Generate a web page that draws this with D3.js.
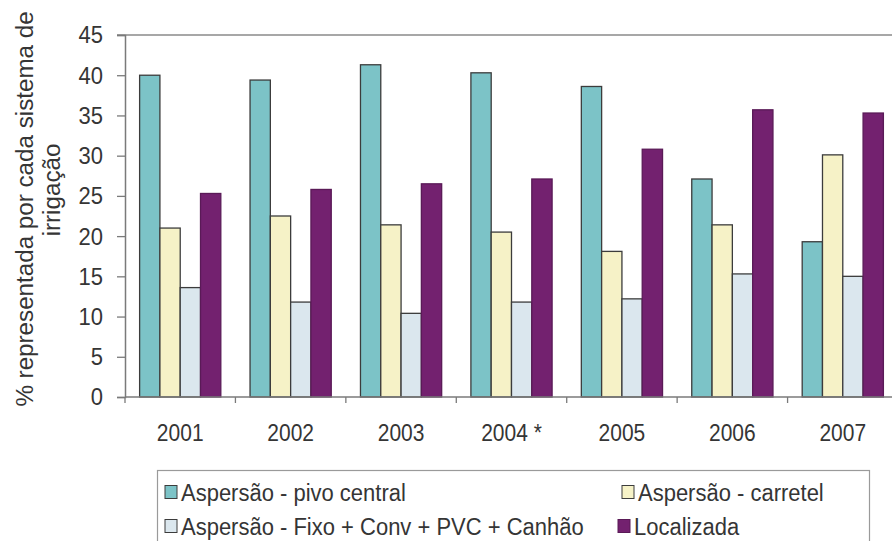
<!DOCTYPE html>
<html>
<head>
<meta charset="utf-8">
<script src="https://cdn.jsdelivr.net/npm/d3@7"></script>
<style>
  html, body { margin: 0; padding: 0; background: #fff; }
  svg { display: block; font-family: "Liberation Sans", Arial, sans-serif; }
</style>
</head>
<body>
<svg id="chart" width="892" height="541"></svg>
<script>
// Irrigation systems share per year (%)
const years = ["2001", "2002", "2003", "2004 *", "2005", "2006", "2007"];
const seriesNames = [
  "Aspersão - pivo central",
  "Aspersão - carretel",
  "Aspersão - Fixo + Conv + PVC + Canhão",
  "Localizada"
];
const pivoCentral = [40.0, 39.4, 41.3, 40.3, 38.6, 27.1, 19.3];
const carretel    = [21.0, 22.5, 21.4, 20.5, 18.1, 21.4, 30.1];
const fixoConv    = [13.6, 11.8, 10.4, 11.8, 12.2, 15.3, 15.0];
const localizada  = [25.3, 25.8, 26.5, 27.1, 30.8, 35.7, 35.3];
const yTicks = [0, 5, 10, 15, 20, 25, 30, 35, 40, 45];

const seriesValues = [pivoCentral, carretel, fixoConv, localizada];
const fills   = ["#7cc3c7", "#f6f2c7", "#dbe7ee", "#73216f"];
const strokes = ["#3c3c3c", "#3c3c3c", "#3c3c3c", "#5a1a57"];

const svg = d3.select("#chart");
const x0 = 125, x1 = 898, yBase = 397, yTop = 35;

const x = d3.scaleBand().domain(years).range([x0, x1]).paddingInner(0).paddingOuter(0);
const xs = d3.scaleBand().domain(d3.range(seriesNames.length))
  .range([0, x.bandwidth()]).paddingInner(0).paddingOuter(0.72);
const y = d3.scaleLinear().domain([0, 45]).range([yBase, yTop]);

const axisColor = "#7a7a7a";
const textColor = "#353535";
const stretch = "scale(1,1.12)";

// top border of the plot area at the 45 level
svg.append("line")
  .attr("x1", x0 - 8).attr("x2", 892)
  .attr("y1", y(45)).attr("y2", y(45))
  .attr("stroke", "#8a8a8a").attr("stroke-width", 1.5);

// bars
years.forEach((yr, i) => {
  const g = svg.append("g").attr("transform", `translate(${x(yr)},0)`);
  seriesValues.forEach((vals, s) => {
    g.append("rect")
      .attr("x", xs(s))
      .attr("y", y(vals[i]))
      .attr("width", xs.bandwidth())
      .attr("height", y(0) - y(vals[i]))
      .attr("fill", fills[s])
      .attr("stroke", strokes[s])
      .attr("stroke-width", 1.3);
  });
});

// y axis
const yAxis = d3.axisLeft(y).tickValues(yTicks).tickSize(8).tickPadding(14).tickFormat(d3.format("d"));
const gy = svg.append("g").attr("transform", `translate(${x0},0)`).call(yAxis);
gy.select(".domain").attr("stroke", axisColor).attr("stroke-width", 1.5);
gy.selectAll(".tick line").attr("stroke", axisColor).attr("stroke-width", 1.3);
gy.selectAll(".tick text")
  .attr("fill", textColor)
  .attr("transform", stretch)
  .style("font-size", "22px");

// x axis: baseline with ticks at category boundaries
svg.append("line")
  .attr("x1", x0).attr("x2", 892)
  .attr("y1", yBase).attr("y2", yBase)
  .attr("stroke", axisColor).attr("stroke-width", 1.6);
svg.append("g").selectAll("line")
  .data(years)
  .join("line")
  .attr("x1", d => x(d)).attr("x2", d => x(d))
  .attr("y1", yBase).attr("y2", yBase + 6)
  .attr("stroke", axisColor).attr("stroke-width", 1.3);
svg.append("g").selectAll("text")
  .data(years)
  .join("text")
  .attr("transform", d => `translate(${x(d) + x.bandwidth() / 2},441) ${stretch}`)
  .attr("text-anchor", "middle")
  .attr("fill", textColor)
  .style("font-size", "21px")
  .text(d => d);

// y axis title, two lines
const yTitle = ["% representada por cada sistema de", "irrigação"];
const titlePos = [{ x: 33, y: 209 }, { x: 60, y: 190 }];
svg.append("g").selectAll("text")
  .data(yTitle)
  .join("text")
  .attr("transform", (d, i) => `translate(${titlePos[i].x},${titlePos[i].y}) rotate(-90) scale(1.1,1.05)`)
  .attr("text-anchor", "middle")
  .attr("fill", textColor)
  .style("font-size", "22px")
  .text(d => d);

// legend
svg.append("rect")
  .attr("x", 157.5).attr("y", 470.5)
  .attr("width", 712).attr("height", 80)
  .attr("fill", "none").attr("stroke", "#9a9a9a").attr("stroke-width", 1.2);

const legendPos = [
  { sx: 165, tx: 181, cy: 492 },
  { sx: 622, tx: 638, cy: 492 },
  { sx: 165, tx: 181, cy: 526 },
  { sx: 618, tx: 634, cy: 526 }
];
const lg = svg.append("g").selectAll("g")
  .data(seriesNames)
  .join("g");
lg.append("rect")
  .attr("x", (d, i) => legendPos[i].sx)
  .attr("y", (d, i) => legendPos[i].cy - 6.5)
  .attr("width", 12).attr("height", 13)
  .attr("fill", (d, i) => fills[i])
  .attr("stroke", (d, i) => strokes[i]).attr("stroke-width", 1);
lg.append("text")
  .attr("transform", (d, i) => `translate(${legendPos[i].tx},${legendPos[i].cy}) ${stretch}`)
  .attr("dy", "0.36em")
  .attr("fill", textColor)
  .style("font-size", "22px")
  .text(d => d);
</script>
</body>
</html>
